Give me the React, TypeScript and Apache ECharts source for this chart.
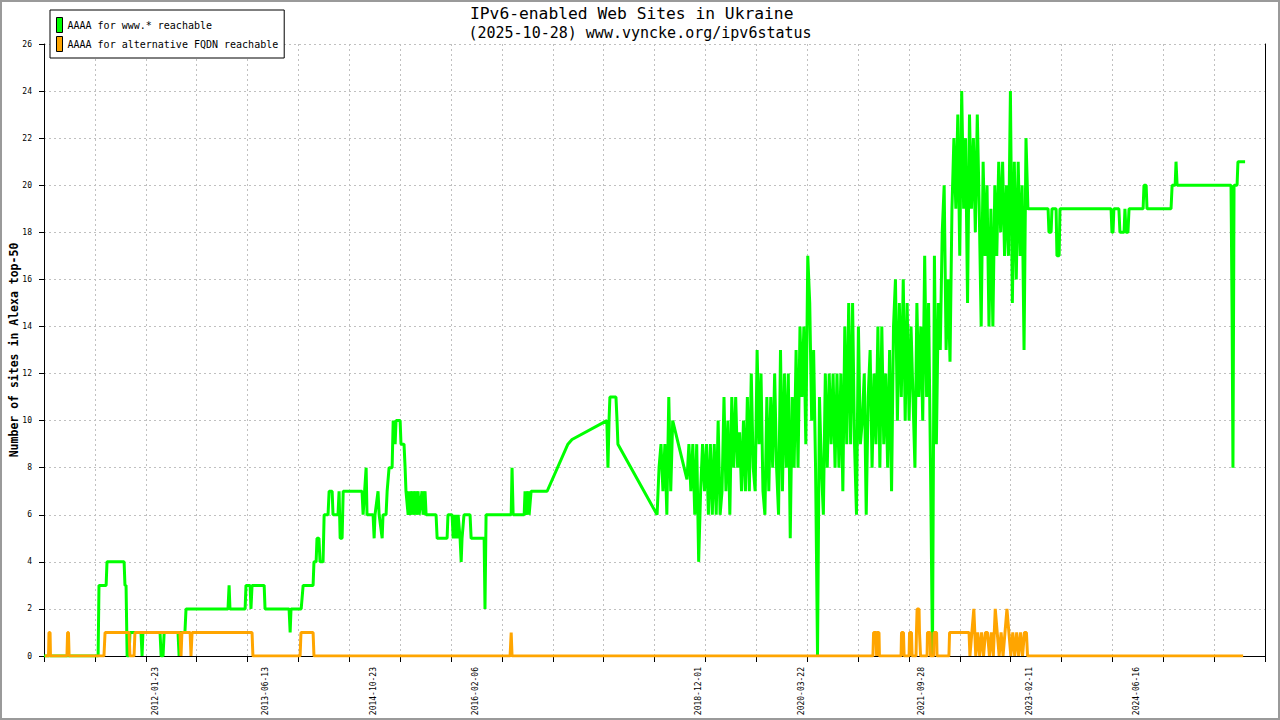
import React, { useEffect, useRef } from "react";
import * as echarts from "echarts";

// x values are days since 2010-01-01
const ORIGIN = Date.UTC(2010, 0, 1);
const DAY_MS = 86400000;
const toDay = (iso: string) => Math.round((Date.parse(iso) - ORIGIN) / DAY_MS);
const fromDay = (d: number) => new Date(ORIGIN + d * DAY_MS).toISOString().slice(0, 10);

const titleLine1 = "IPv6-enabled Web Sites in Ukraine";
const titleLine2 = "(2025-10-28) www.vyncke.org/ipv6status";
const yAxisTitle = "Number of sites in Alexa top-50";
const seriesNames = ["AAAA for www.* reachable", "AAAA for alternative FQDN reachable"];
const xTickLabels = [
  "2012-01-23", "2013-06-13", "2014-10-23", "2016-02-06", "2018-12-01",
  "2020-03-22", "2021-09-28", "2023-02-11", "2024-06-16",
];
const xMin = 235;
const xMax = 5875;
const xStep = 235;
const yMax = 26;
const yStep = 2;
const SAMPLE_STEP = 9; // days between samples in the dense periods

// --- AAAA for www.* reachable ---
const wwwEarly: [number, number][] = [
  [235, 0], [485, 0], [489, 3], [522, 3], [526, 4], [605, 4], [609, 3], [614, 3], [619, 0], [628, 0], [632, 1],
  [683, 1], [688, 0], [692, 1], [771, 1], [776, 0], [785, 0], [790, 1], [854, 1], [859, 0], [863, 1],
  [882, 1], [886, 1], [891, 2], [1085, 2], [1090, 3], [1094, 2], [1164, 2], [1168, 3], [1187, 3],
  [1191, 2], [1196, 3], [1252, 3], [1256, 2], [1367, 2], [1372, 1], [1376, 2], [1423, 2], [1432, 3], [1478, 3],
  [1482, 4], [1492, 4], [1496, 5], [1505, 5], [1510, 4], [1524, 4], [1529, 6], [1547, 6], [1552, 7], [1566, 7],
  [1570, 6], [1593, 6], [1598, 7], [1603, 5], [1612, 5], [1617, 7], [1704, 7], [1709, 6], [1723, 8], [1727, 6],
  [1755, 6], [1760, 5], [1764, 6], [1778, 7], [1783, 6], [1797, 5], [1801, 6], [1815, 6], [1820, 7], [1829, 8],
  [1843, 8], [1848, 10], [1857, 9], [1861, 10], [1880, 10], [1884, 9], [1898, 9], [1903, 8], [1907, 7], [1917, 6],
  [1921, 7], [1926, 6], [1935, 7], [1940, 6], [1949, 7], [1954, 6], [1963, 7], [1968, 6], [1981, 7], [1986, 6],
  [1995, 7], [2000, 6], [2046, 6], [2051, 5], [2097, 5], [2101, 6], [2120, 6], [2125, 5], [2129, 6], [2134, 5],
  [2138, 6], [2143, 5], [2148, 6], [2157, 5], [2162, 4], [2166, 5], [2175, 6], [2203, 6], [2208, 5], [2268, 5],
  [2272, 2], [2277, 6], [2393, 6], [2397, 8], [2402, 6], [2453, 6], [2457, 7], [2462, 6], [2471, 7], [2476, 6],
  [2485, 7], [2559, 7], [2655, 9], [2674, 9.2], [2835, 10], [2840, 8], [2845, 10], [2849, 11], [2877, 11],
  [2882, 10], [2886, 9],
];
const wwwDense1Start = 3067;
const wwwDense1 = [6, 8, 9, 7, 9, 6, 11, 7, 10];
const wwwGap: [number, number][] = [[3205, 7.5]];
const wwwDense2Start = 3214;
const wwwDense2 = [
  9, 7, 9, 6, 9, 4, 7, 9, 7, 9,
  6, 9, 6, 9, 6, 10, 6, 7, 11, 7,
  10, 6, 11, 8, 11, 8, 9.5, 7, 10, 7,
  11, 7, 12, 8, 7, 13, 9, 12, 7, 6,
  11, 7, 11, 8, 12, 8, 6, 13, 7, 12,
  8, 12, 5, 11, 8, 13, 8, 14, 11, 14,
  9, 17, 15, 10, 13, 8, 0, 11, 8, 6,
  12, 8, 12, 9, 12, 8, 12, 8, 12, 7,
  14, 9, 15, 9, 15, 9, 6, 14, 9, 10,
  12, 6, 11, 13, 8, 12, 9, 14, 8, 14,
  9, 12, 8, 13, 7, 14, 16, 10, 15, 11,
  16, 10, 15, 10, 14, 11, 8, 15, 11, 14,
  10, 17, 11, 15, 8, 0, 17, 9, 15, 13,
  18, 20, 13, 16, 12.5, 19, 22, 19, 23, 17,
  24, 19, 22, 15, 23, 19, 22, 18, 23, 19,
  14, 21, 17, 20, 14, 19, 14, 20, 17, 21,
  18, 21, 17, 20, 17, 24, 15, 21, 16, 21,
  17, 20, 13, 22, 19,
];
const wwwLate: [number, number][] = [
  [4785, 19], [4873, 19], [4877, 18], [4887, 18], [4891, 19], [4910, 19], [4914, 17], [4924, 17], [4928, 19],
  [5164, 19], [5168, 18], [5173, 18], [5177, 19], [5200, 19], [5205, 18], [5224, 18], [5228, 19], [5233, 18],
  [5242, 18], [5247, 19], [5312, 19], [5316, 20], [5326, 20], [5330, 19], [5441, 19], [5446, 20], [5460, 20],
  [5464, 21], [5469, 20], [5718, 20], [5723, 14.5], [5727, 8], [5732, 20], [5746, 20], [5750, 21], [5783, 21],
];

// --- AAAA for alternative FQDN reachable ---
const altEarly: [number, number][] = [
  [240, 0], [256, 0], [258, 1], [263, 1], [265, 0], [341, 0], [344, 1], [348, 1], [351, 0], [512, 0], [517, 1],
  [628, 1], [632, 0], [651, 0], [655, 1], [863, 1], [868, 0], [872, 1], [910, 1], [914, 0], [919, 1], [1196, 1],
  [1200, 0], [1418, 0], [1422, 1], [1478, 1], [1482, 0], [2388, 0], [2393, 1], [2397, 0], [4064, 0], [4067, 1],
  [4078, 1], [4081, 0], [4083, 1], [4092, 1], [4094, 0], [4194, 0], [4196, 1], [4205, 1], [4208, 0], [4231, 0],
  [4233, 1], [4242, 1], [4245, 0], [4263, 0], [4265, 1], [4268, 2], [4277, 2], [4279, 1], [4282, 1], [4284, 0],
  [4314, 0], [4316, 1], [4328, 1], [4330, 0], [4344, 0], [4346, 1], [4358, 1], [4360, 0], [4415, 0], [4418, 1],
  [4508, 1],
];
const altDenseStart = 4512;
const altDense = [0, 1, 2, 0, 1, 0, 1, 0, 1, 1, 0, 1, 0, 2, 1, 0, 1, 0, 1, 2, 1, 0, 1, 0, 1, 0, 1, 0, 1, 1];
const altLate: [number, number][] = [[4778, 0], [5774, 0]];

const dense = (start: number, values: number[]): [number, number][] =>
  values.map((v, i) => [start + i * SAMPLE_STEP, v]);

const wwwData = [
  ...wwwEarly,
  ...dense(wwwDense1Start, wwwDense1),
  ...wwwGap,
  ...dense(wwwDense2Start, wwwDense2),
  ...wwwLate,
];
const altData = [...altEarly, ...dense(altDenseStart, altDense), ...altLate];

const MONO = "'DejaVu Sans Mono', monospace";
const GREEN = "#00ff00";
const ORANGE = "#ffa500";

export default function App() {
  const ref = useRef<HTMLDivElement>(null);
  useEffect(() => {
    const chart = echarts.init(ref.current as HTMLDivElement, null, { renderer: "svg" });
    const option: any = {
      animation: false,
      backgroundColor: "#ffffff",
      title: [
        {
          text: titleLine1,
          left: 465,
          top: 0,
          textStyle: { fontFamily: MONO, fontSize: 16.3, fontWeight: "normal", color: "#000" },
        },
        {
          text: titleLine2,
          left: "center",
          top: 20,
          textStyle: { fontFamily: MONO, fontSize: 15, fontWeight: "normal", color: "#000" },
        },
      ],
      legend: {
        left: 50,
        top: 10,
        orient: "vertical",
        icon: "rect",
        itemWidth: 6,
        itemHeight: 15,
        itemGap: 3,
        padding: [7, 6, 6, 6],
        borderColor: "#000",
        borderWidth: 1,
        backgroundColor: "#fff",
        selectedMode: false,
        itemStyle: { borderColor: "#000", borderWidth: 1 },
        textStyle: { fontFamily: MONO, fontSize: 10, color: "#000" },
        data: seriesNames,
      },
      grid: { left: 44, right: 15, top: 44, bottom: 64, containLabel: false, outerBoundsMode: "none" },
      xAxis: {
        type: "value",
        min: xMin,
        max: xMax,
        interval: xStep,
        axisLine: { show: true, lineStyle: { color: "#000", width: 1 } },
        axisTick: { show: true, length: 6, lineStyle: { color: "#000" } },
        splitLine: { show: true, lineStyle: { color: "#c0c0c0", type: [2, 3], width: 1 } },
        axisLabel: {
          customValues: xTickLabels.map(toDay),
          formatter: (v: number) => fromDay(v),
          rotate: 90,
          margin: 11,
          fontFamily: MONO,
          fontSize: 8,
          color: "#000",
        },
      },
      yAxis: [
        {
          type: "value",
          min: 0,
          max: yMax,
          interval: yStep,
          name: yAxisTitle,
          nameLocation: "middle",
          nameGap: 24,
          nameRotate: 90,
          nameMoveOverlap: false,
          nameTextStyle: { fontFamily: MONO, fontSize: 11.5, fontWeight: "bold", color: "#000" },
          axisLine: { show: true, lineStyle: { color: "#000", width: 1 } },
          axisTick: { show: true, length: 5, lineStyle: { color: "#000" } },
          splitLine: { show: true, lineStyle: { color: "#c0c0c0", type: [2, 3], width: 1 } },
          axisLabel: { margin: 12, fontFamily: MONO, fontSize: 8, color: "#000" },
        },
        {
          type: "value",
          min: 0,
          max: yMax,
          interval: yStep,
          position: "right",
          axisLine: { show: true, lineStyle: { color: "#000", width: 1 } },
          axisTick: { show: false },
          axisLabel: { show: false },
          splitLine: { show: false },
        },
      ],
      series: [
        {
          name: seriesNames[0],
          type: "line",
          data: wwwData,
          showSymbol: false,
          symbol: "none",
          color: GREEN,
          lineStyle: { color: GREEN, width: 3 },
          z: 2,
        },
        {
          name: seriesNames[1],
          type: "line",
          data: altData,
          showSymbol: false,
          symbol: "none",
          color: ORANGE,
          lineStyle: { color: ORANGE, width: 3 },
          z: 3,
        },
      ],
      graphic: [
        {
          type: "rect",
          shape: { x: 1, y: 1, width: 1278, height: 718 },
          style: { fill: "none", stroke: "#9a9a9a", lineWidth: 2 },
          silent: true,
          z: 100,
        },
      ],
    };
    chart.setOption(option);
    return () => chart.dispose();
  }, []);
  return (
    <div
      ref={ref}
      style={{ position: "fixed", left: 0, top: 0, width: 1280, height: 720, background: "#fff" }}
    />
  );
}
